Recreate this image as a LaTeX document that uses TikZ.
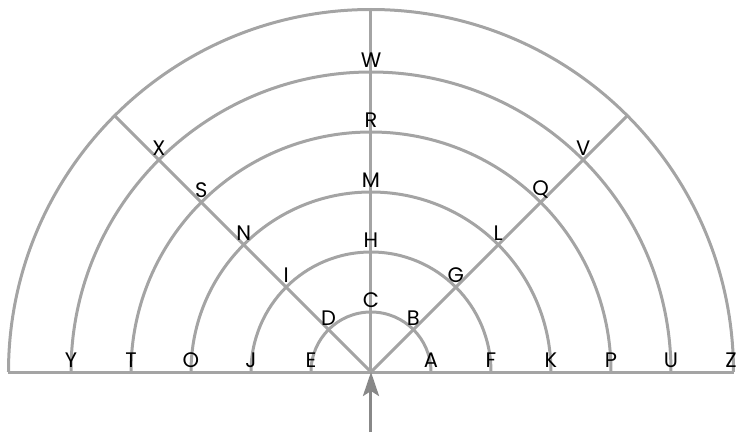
\documentclass[tikz,border=0pt]{standalone}
\usepackage{fontspec}
\setmainfont{Poppins}
\usepackage{tikz}
\usetikzlibrary{arrows.meta}

\definecolor{ringgray}{HTML}{A4A4A4}
\definecolor{arrowgray}{HTML}{888888}

\begin{document}
\begin{tikzpicture}[x=1pt, y=1pt,
    ring/.style={draw=ringgray, line width=3pt},
    lbl/.style={anchor=south, inner sep=4pt, font=\fontsize{21}{21}\selectfont}]
    \useasboundingbox (-371,-60) rectangle (366,372);

    % Define centre and outer ends
    \coordinate (O) at (0,0);
    \coordinate (Lend) at (180:362.5);
    \coordinate (Rend) at (0:362.5);
    \coordinate (NWend) at (135:362.5);
    \coordinate (NEend) at (45:362.5);
    \coordinate (Nend) at (90:362.5);
    \coordinate (start) at (0,-60);

    % Draw half rings
    \draw[ring] (60,0) arc[start angle=0, end angle=180, radius=60];
    \draw[ring] (120,0) arc[start angle=0, end angle=180, radius=120];
    \draw[ring] (180,0) arc[start angle=0, end angle=180, radius=180];
    \draw[ring] (240,0) arc[start angle=0, end angle=180, radius=240];
    \draw[ring] (300,0) arc[start angle=0, end angle=180, radius=300];
    \draw[ring] (Rend) arc[start angle=0, end angle=180, radius=362.5];

    % Draw spokes
    \draw[ring] (Lend) -- (Rend);
    \draw[ring] (O) -- (NWend);
    \draw[ring] (O) -- (NEend);
    \draw[ring] (O) -- (Nend);

    % Entry arrow
    \draw[arrowgray, line width=3pt, -{Stealth[length=24pt, width=16pt, inset=5pt]}] (start) -- (O);

    % Labels, ring 1
    \node[lbl] (A) at (0:60) {A};
    \node[lbl] (B) at (45:60) {B};
    \node[lbl] (C) at (90:60) {C};
    \node[lbl] (D) at (135:60) {D};
    \node[lbl] (E) at (180:60) {E};
    % ring 2
    \node[lbl] (F) at (0:120) {F};
    \node[lbl] (G) at (45:120) {G};
    \node[lbl] (H) at (90:120) {H};
    \node[lbl] (I) at (135:120) {I};
    \node[lbl] (J) at (180:120) {J};
    % ring 3
    \node[lbl] (K) at (0:180) {K};
    \node[lbl] (L) at (45:180) {L};
    \node[lbl] (M) at (90:180) {M};
    \node[lbl] (N) at (135:180) {N};
    \node[lbl] (Oo) at (180:180) {O};
    % ring 4
    \node[lbl] (P) at (0:240) {P};
    \node[lbl] (Q) at (45:240) {Q};
    \node[lbl] (R) at (90:240) {R};
    \node[lbl] (S) at (135:240) {S};
    \node[lbl] (T) at (180:240) {T};
    % ring 5
    \node[lbl] (U) at (0:300) {U};
    \node[lbl] (V) at (45:300) {V};
    \node[lbl] (W) at (90:300) {W};
    \node[lbl] (X) at (135:300) {X};
    \node[lbl] (Y) at (180:300) {Y};
    % outer ring
    \node[lbl] (Z) at (0:360) {Z};
\end{tikzpicture}
\end{document}
